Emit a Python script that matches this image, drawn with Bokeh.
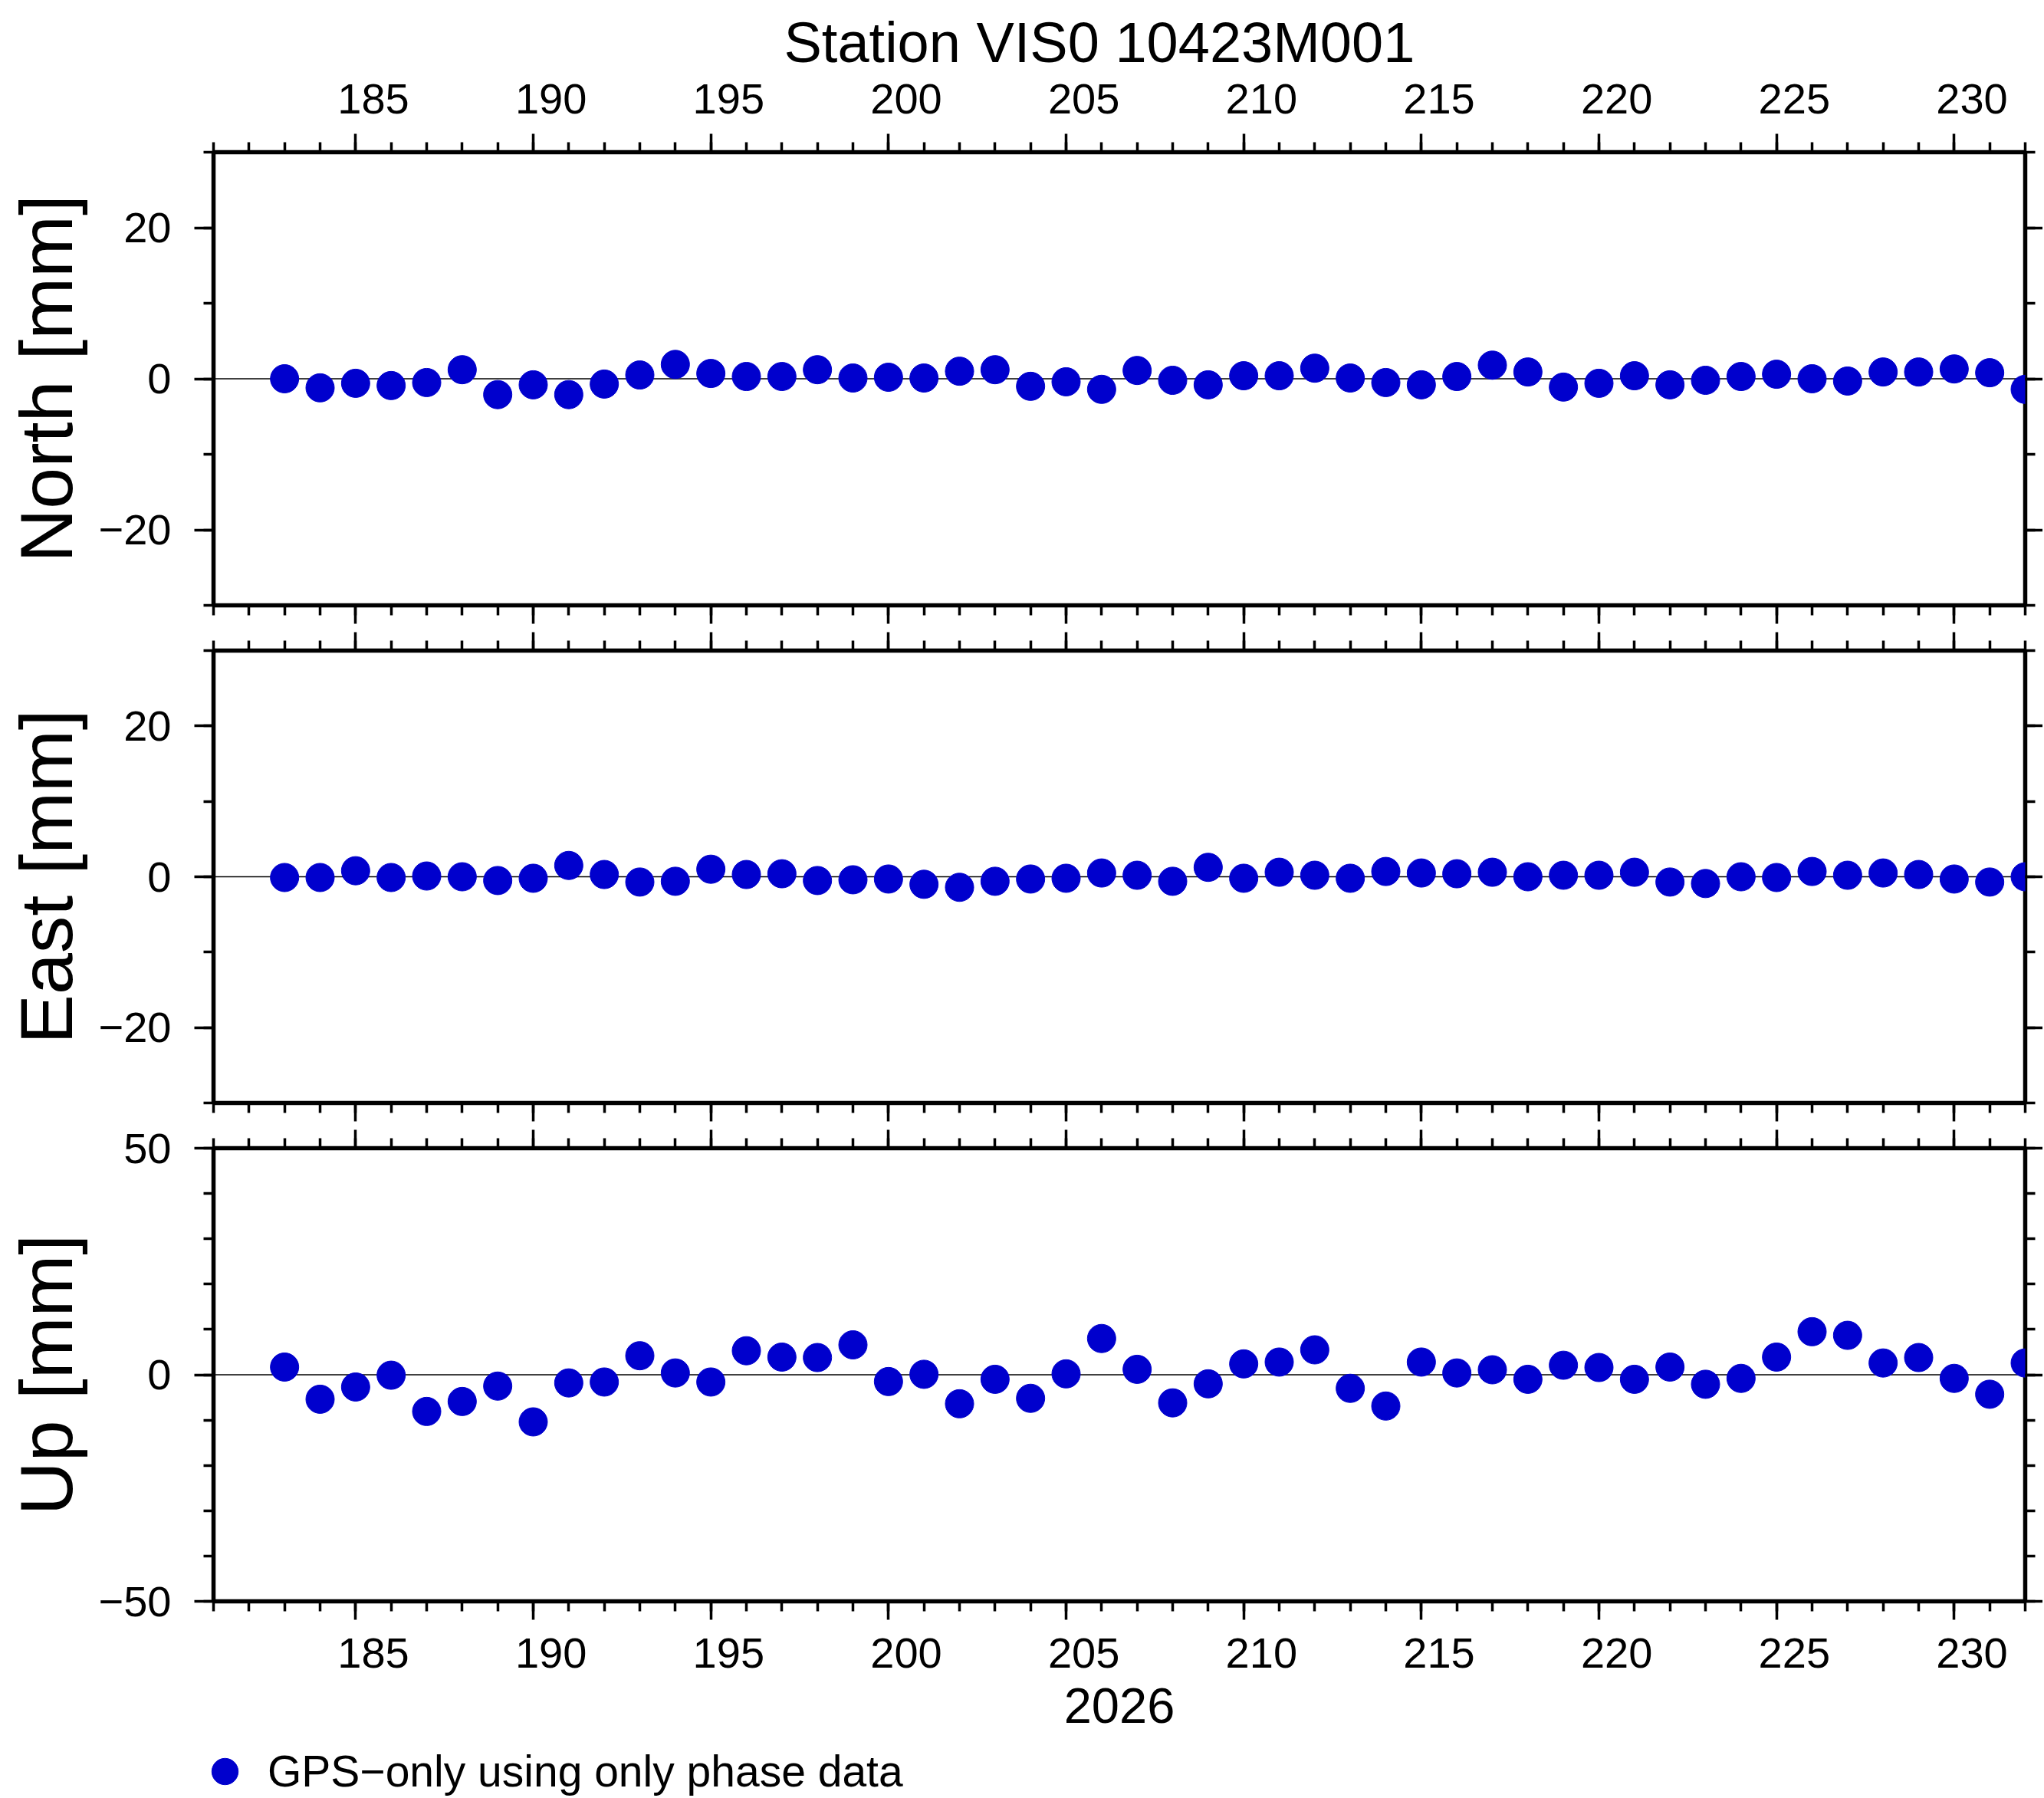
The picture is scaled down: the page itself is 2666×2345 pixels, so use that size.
from bokeh.plotting import figure
from bokeh.models import Range1d, LinearAxis, FixedTicker, Span, Legend, LegendItem, Title
from bokeh.layouts import column
from bokeh.embed import file_html
from bokeh.resources import INLINE

# ---------------- data ----------------
days = list(range(183, 233))

north = [0.0, -1.2, -0.6, -0.9, -0.5, 1.2, -2.1, -0.8, -2.1, -0.7,
         0.5, 1.9, 0.7, 0.3, 0.3, 1.2, 0.1, 0.2, 0.1, 1.0,
         1.2, -1.0, -0.4, -1.4, 1.1, -0.2, -0.8, 0.4, 0.4, 1.4,
         0.1, -0.5, -0.8, 0.3, 1.8, 0.9, -1.1, -0.6, 0.4, -0.8,
         -0.2, 0.3, 0.6, 0.0, -0.3, 0.9, 0.9, 1.3, 0.8, -1.4]

east = [-0.1, -0.1, 0.8, -0.1, 0.1, 0.0, -0.5, -0.2, 1.5, 0.3,
        -0.7, -0.6, 1.0, 0.3, 0.4, -0.5, -0.4, -0.3, -1.0, -1.4,
        -0.6, -0.3, -0.2, 0.5, 0.2, -0.6, 1.25, -0.2, 0.6, 0.2,
        -0.2, 0.7, 0.5, 0.4, 0.6, 0.0, 0.2, 0.2, 0.6, -0.7,
        -0.9, 0.0, -0.1, 0.7, 0.2, 0.5, 0.3, -0.3, -0.7, 0.0]

up = [1.7, -5.4, -2.7, -0.1, -8.1, -5.9, -2.5, -10.4, -1.8, -1.6,
      4.2, 0.4, -1.6, 5.3, 3.9, 3.8, 6.6, -1.5, 0.1, -6.4,
      -1.0, -5.2, 0.2, 8.0, 1.2, -6.2, -2.0, 2.4, 2.8, 5.5,
      -3.0, -6.9, 2.8, 0.4, 1.1, -1.0, 2.1, 1.6, -1.0, 1.7,
      -2.1, -0.8, 3.9, 9.5, 8.7, 2.6, 3.8, -0.8, -4.3, 2.6]

title_text = "Station VIS0 10423M001"
year_label = "2026"
legend_label = "GPS\u2212only using only phase data"
panel_labels = ["North [mm]", "East [mm]", "Up [mm]"]

x_limits = (181, 232)
x_major = list(range(185, 231, 5))
x_minor = list(range(181, 233))

ne_limits = (-30, 30)
ne_major = [-20, 0, 20]
ne_minor = list(range(-30, 31, 10))
up_limits = (-50, 50)
up_major = [-50, 0, 50]
up_minor = list(range(-50, 51, 10))

# ---------------- style ----------------
FONT = "Liberation Sans"
BLUE = "#0000cd"
FRAME_W = 2363
TICK_W = 3.5
MARKER = 37
PAGE_W = 2664


def minus(v):
    return ("\u2212" + str(-v)) if v < 0 else str(v)


def tick_axis(ticker, out, minor_out):
    return LinearAxis(ticker=ticker, major_tick_out=out, major_tick_in=0,
                      minor_tick_out=minor_out, minor_tick_in=0,
                      major_tick_line_width=TICK_W, minor_tick_line_width=TICK_W,
                      major_tick_line_color="black", minor_tick_line_color="black",
                      axis_line_color=None, major_label_text_font_size="0px",
                      major_label_text_color=None, major_label_standoff=0)


def label_axis(standoff):
    return LinearAxis(x_range_name="lab", ticker=FixedTicker(ticks=x_major),
                      major_tick_out=0, major_tick_in=0, minor_tick_out=0, minor_tick_in=0,
                      major_tick_line_color=None, minor_tick_line_color=None,
                      axis_line_color=None, major_label_standoff=standoff,
                      major_label_text_font=FONT, major_label_text_font_size="56px",
                      major_label_text_color="black")


def panel(yvals, ylim, ymaj, ymin, ylab, frame_h, b_top, b_bottom, top_labels, bottom_labels):
    p = figure(frame_width=FRAME_W, frame_height=frame_h,
               x_range=Range1d(*x_limits), y_range=Range1d(*ylim),
               x_axis_location=None, y_axis_location=None,
               toolbar_location=None, tools="", output_backend="svg",
               min_border_left=278, min_border_right=23,
               min_border_top=b_top, min_border_bottom=b_bottom)
    p.grid.visible = False
    p.outline_line_color = "black"
    p.outline_line_width = 5.5
    p.background_fill_color = "white"
    p.border_fill_color = "white"
    p.extra_x_ranges = {"lab": Range1d(x_limits[0] - 0.5, x_limits[1] - 0.5)}

    # left axis with tick labels and panel label
    left = LinearAxis(ticker=FixedTicker(ticks=ymaj, minor_ticks=ymin),
                      major_tick_out=25, major_tick_in=0,
                      minor_tick_out=13, minor_tick_in=0,
                      major_tick_line_width=TICK_W, minor_tick_line_width=TICK_W,
                      major_tick_line_color="black", minor_tick_line_color="black",
                      axis_line_color=None, major_label_standoff=30,
                      major_label_text_font=FONT, major_label_text_font_size="56px",
                      major_label_text_color="black",
                      major_label_overrides={v: minus(v) for v in ymaj},
                      axis_label=ylab, axis_label_standoff=11,
                      axis_label_text_font=FONT, axis_label_text_font_size="97px",
                      axis_label_text_font_style="normal", axis_label_text_color="black")
    p.add_layout(left, "left")
    p.add_layout(tick_axis(FixedTicker(ticks=ymaj, minor_ticks=ymin), 23, 13), "right")

    p.add_layout(tick_axis(FixedTicker(ticks=x_major, minor_ticks=x_minor), 24, 13), "above")
    if top_labels:
        p.add_layout(label_axis(27), "above")
    p.add_layout(tick_axis(FixedTicker(ticks=x_major, minor_ticks=x_minor), 24, 13), "below")
    if bottom_labels:
        lab = label_axis(24)
        lab.axis_label = year_label
        lab.axis_label_text_font = FONT
        lab.axis_label_text_font_size = "65px"
        lab.axis_label_text_font_style = "normal"
        lab.axis_label_text_color = "black"
        lab.axis_label_standoff = 24
        p.add_layout(lab, "below")

    p.add_layout(Span(location=0, dimension="width", line_color="black",
                      line_width=1.3, level="underlay"))
    r = p.scatter(days, yvals, size=MARKER, fill_color=BLUE, line_color=BLUE)
    return p, r


pA, _ = panel(north, ne_limits, ne_major, ne_minor, panel_labels[0], 591, 198, 30, True, False)
pB, _ = panel(east, ne_limits, ne_major, ne_minor, panel_labels[1], 590, 29, 25, False, False)
pC, rC = panel(up, up_limits, up_major, up_minor, panel_labels[2], 591, 34, 172, False, True)

pA.title = Title(text=title_text, align="left", offset=744, standoff=20,
                 text_font=FONT, text_font_size="74px", text_font_style="normal",
                 text_color="black")

# legend strip below the panels
LEG_H = 85
pD = figure(frame_width=PAGE_W, frame_height=LEG_H, min_border=0,
            x_range=Range1d(*x_limits), y_range=Range1d(*up_limits),
            x_axis_location=None, y_axis_location=None,
            toolbar_location=None, tools="", output_backend="svg")
pD.grid.visible = False
pD.outline_line_color = None
pD.background_fill_color = "white"
pD.border_fill_color = "white"
rD = pD.scatter(days, up, size=MARKER, fill_color=BLUE, line_color=BLUE, visible=False)
legend = Legend(items=[LegendItem(label=legend_label, renderers=[rD])],
                location=(250, -8), glyph_width=86, glyph_height=86,
                label_text_font=FONT, label_text_font_size="57px", label_standoff=13,
                label_text_color="black", inactive_fill_alpha=0,
                padding=0, margin=0, spacing=0, border_line_color=None,
                background_fill_alpha=0)
pD.add_layout(legend, "center")

layout = column(pA, pB, pC, pD, spacing=0)
open("out.html", "w").write(file_html(layout, INLINE))
